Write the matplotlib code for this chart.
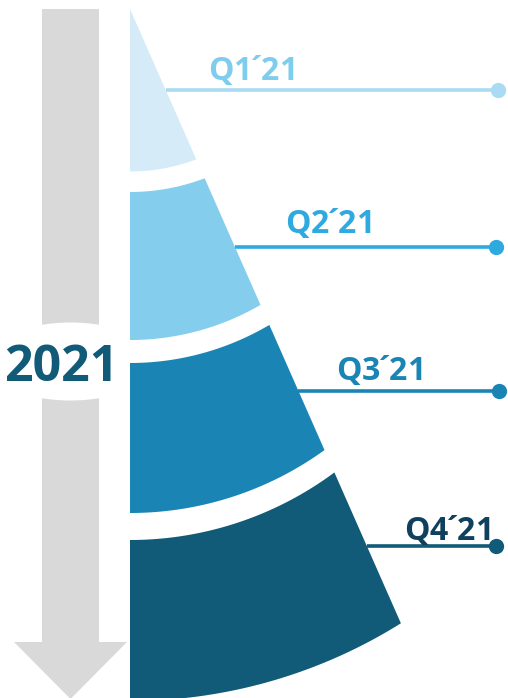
import numpy as np
import matplotlib.pyplot as plt
from matplotlib.patches import Polygon, Rectangle, Ellipse

# labels
quarters = ['Q1´21', 'Q2´21', 'Q3´21', 'Q4´21']
year = '2021'

# styles
band_colors = ['#D5ECF8', '#84CDED', '#1A85B4', '#115A78']
text_colors = ['#7FCDEE', '#2EAAE1', '#1A85B4', '#0F415F']
line_colors = ['#A9DCF3', '#2EAAE1', '#1A85B4', '#115A78']
gray = '#D9D9D9'

# wedge layout (pixel coords, y down)
x0, apex_y = 130.0, 9.0
slope = 0.441  # dx per dy of right edge
# (left y, circle centre y) for top / bottom arc of each band; None = apex
arcs = [
    (None, (171.5, -15)),
    ((192, -18), (340, 80)),
    ((363, 89), (513, 181)),
    ((540, 197), (701, 190)),
]
label_xy = [(208, 80), (285, 233), (336, 380), (404, 540)]
line_y = [90, 246.7, 391, 546]
dot_x = [498, 496, 499, 496]


def right_x(y):
    return x0 + slope * (y - apex_y)


def arc_y(x, yl, cy):
    r = yl - cy
    return cy + np.sqrt(np.maximum(r ** 2 - (x - x0) ** 2, 0))


def arc_end(yl, cy):
    # bisection for where the arc meets the right edge
    lo, hi = x0, x0 + 400
    for _ in range(60):
        m = (lo + hi) / 2
        if arc_y(m, yl, cy) > apex_y + (m - x0) / slope:
            lo = m
        else:
            hi = m
    return lo


fig = plt.figure(figsize=(5.08, 6.98), dpi=100)
ax = fig.add_axes([0, 0, 1, 1])
ax.set_xlim(0, 508)
ax.set_ylim(698, 0)
ax.axis('off')

# gray arrow
ax.add_patch(Rectangle((42, 9), 57, 640, color=gray, lw=0, zorder=1))
ax.add_patch(Polygon([(14, 642), (127, 642), (70.5, 699)], closed=True,
                     color=gray, lw=0, zorder=1))
ax.add_patch(Ellipse((70.5, 361.5), 170, 78, color='white', lw=0, zorder=2))
ax.text(61, 381, year, fontsize=36, fontweight='bold', family='Open Sans',
        color='#115A78', ha='center', va='baseline', zorder=3)

# wedge bands
for i, (top, bot) in enumerate(arcs):
    pts = []
    if top is None:
        pts.append((x0, apex_y))
    else:
        xe = arc_end(*top)
        xs = np.linspace(x0, xe, 80)
        pts += list(zip(xs, arc_y(xs, *top)))
    xe = arc_end(*bot)
    xs = np.linspace(xe, x0, 80)
    pts += list(zip(xs, arc_y(xs, *bot)))
    ax.add_patch(Polygon(pts, closed=True, color=band_colors[i], lw=0,
                         zorder=4))

# leader lines, dots and labels
for i, q in enumerate(quarters):
    y = line_y[i]
    ax.plot([right_x(y), dot_x[i]], [y, y], color=line_colors[i], lw=2.6,
            solid_capstyle='butt', zorder=5)
    ax.plot(dot_x[i], y, 'o', ms=11, color=line_colors[i], mec='none',
            zorder=6)
    # pull the acute in tight (negative math spaces) so it reads like a prime
    head, tail = q.split('´')
    s = head + r'$\!$´$\!$' + tail
    ax.text(label_xy[i][0], label_xy[i][1], s, fontsize=23,
            fontweight='bold', family='Open Sans', color=text_colors[i],
            ha='left', va='baseline', zorder=6)

fig.savefig('out.png', dpi=100)
